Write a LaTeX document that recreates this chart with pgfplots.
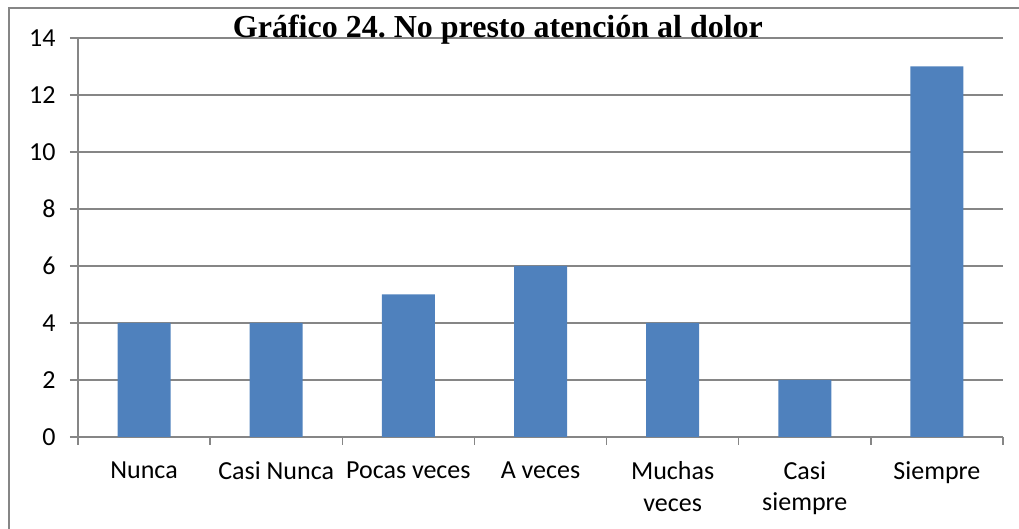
\documentclass[border=0pt]{standalone}
\usepackage{pgfplots}
\pgfplotsset{compat=1.18}
\usepackage{fontspec}
\setmainfont{Carlito}
\newfontfamily\titlefont{Liberation Serif}
\definecolor{barblue}{HTML}{4F81BD}
\definecolor{gridgray}{HTML}{868686}
\frenchspacing
\begin{document}
\begin{tikzpicture}
\begin{axis}[
  name=ax,
  scale only axis,
  width=925pt, height=399pt,
  xmin=-0.5, xmax=6.5,
  ymin=0, ymax=14,
  ytick={0,2,...,14},
  xtick={0,...,6},
  xticklabels={Nunca, Casi Nunca, Pocas veces, A veces, {Muchas\\veces}, {Casi\\siempre}, Siempre},
  minor xtick={-0.5,0.5,...,6.5},
  axis x line*=bottom,
  axis y line*=left,
  axis line style={gridgray, line width=1.5pt, -},
  tick align=outside,
  major tick length=8pt,
  minor tick length=8pt,
  xtick style={draw=none},
  minor x tick style={draw=gridgray, line width=1.5pt},
  ytick style={draw=gridgray, line width=1.5pt},
  ymajorgrids,
  major grid style={gridgray, line width=1.5pt},
  xticklabel style={align=center, font=\fontsize{26}{31.5}\selectfont, yshift=-13pt},
  yticklabel style={font=\fontsize{26}{31.5}\selectfont, xshift=-11pt},
  /pgf/number format/assume math mode=true,
  title={\titlefont\bfseries Gráfico 24. No presto atención al dolor},
  title style={at={(0.454,0.985)}, anchor=base, font=\fontsize{32}{37}\selectfont, inner sep=0pt},
  clip=false,
]
\addplot[ybar, bar width=53pt, fill=barblue, draw=none] coordinates {
  (0,4) (1,4) (2,5) (3,6) (4,4) (5,2) (6,13)
};
\end{axis}
\draw[gridgray, line width=1.8pt] (ax.south west) ++(-69pt,-100pt) -- ++(0,529pt) -- ++(1020pt,0);
\pgfresetboundingbox
\path[use as bounding box] (ax.south west) ++(-78pt,-92pt) rectangle ++(1019pt,529pt);
\end{tikzpicture}
\end{document}
